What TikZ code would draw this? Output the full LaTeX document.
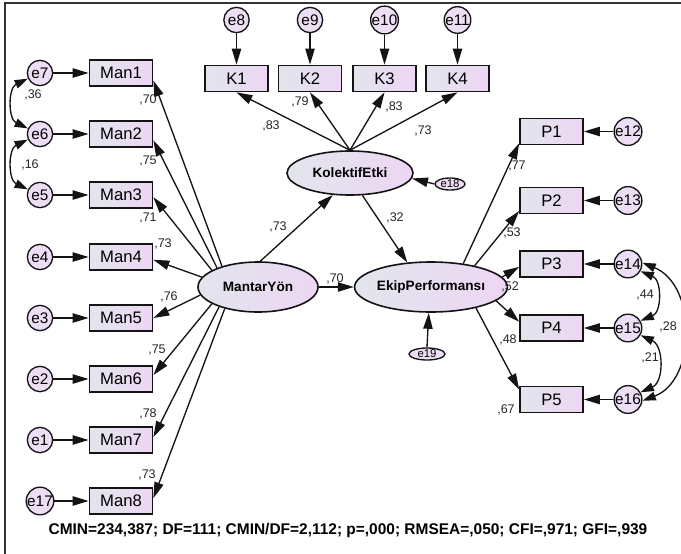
\documentclass[tikz,border=0pt]{standalone}
\usepackage{fontspec}
\setmainfont{Liberation Sans}
\usetikzlibrary{arrows.meta,shapes.geometric}
\definecolor{gl}{RGB}{226,229,237}
\definecolor{gr}{RGB}{237,214,243}
\definecolor{ef}{RGB}{238,222,245}
\definecolor{ln}{RGB}{20,20,20}
\tikzset{
 obs/.style={draw=ln, line width=1.3pt, rectangle, minimum width=47.25pt, minimum height=19.5pt, inner sep=0pt, left color=gl, right color=gr, font=\fontsize{12.5}{13}\selectfont},
 err/.style={draw=ln, line width=1pt, circle, minimum size=19pt, inner sep=0pt, fill=ef, font=\fontsize{11.5}{12}\selectfont},
 lat/.style={draw=ln, line width=1.2pt, ellipse, inner sep=0pt, left color=gl, right color=gr, font=\bfseries\fontsize{10.2}{12}\selectfont},
 serr/.style={draw=ln, line width=1pt, ellipse, inner sep=0pt, fill=ef, font=\fontsize{8.5}{9}\selectfont, minimum height=9pt},
 arr/.style={draw=ln, line width=1pt, -{Triangle[length=12pt,width=7pt]}},
 cov/.style={draw=ln, line width=1pt, {Triangle[length=10pt,width=6.5pt]}-{Triangle[length=10pt,width=6.5pt]}},
 lab/.style={font=\fontsize{9.4}{10}\selectfont, inner sep=0pt, text=black!85},
}
\begin{document}
\begin{tikzpicture}[x=0.75pt,y=-0.75pt]
\useasboundingbox (0,0) rectangle (681,553);
\draw[line width=1.5pt, black!80] (5,560) -- (5,3) -- (690,3);

% left column
\foreach \n/\e/\y in {1/7/73, 2/6/134, 3/5/195, 4/4/257, 5/3/318, 6/2/379, 7/1/440, 8/17/501}{
  \node[obs] (m\n) at (121,\y) {Man\n};
  \node[err] (e\e) at (40,\y) {e\e};
  \draw[arr] (e\e) -- (m\n);
}

% K row
\foreach \n/\e/\x in {1/8/236.5, 2/9/310, 3/10/384.5, 4/11/457.5}{
  \node[obs] (k\n) at (\x,78.5) {K\n};
  \node[err] (e\e) at (\x,20) {e\e};
  \draw[arr] (e\e) -- (k\n);
}

% latent
\node[lat, minimum width=94.5pt, minimum height=33pt] (ke) at (350,173) {KolektifEtki};
\node[lat, minimum width=90pt, minimum height=37.5pt] (my) at (258,287) {MantarYön};
\node[lat, minimum width=84pt, minimum height=37.5pt] (ep) at (431,287) {EkipPerformansı};
\node[serr, minimum width=22.5pt] (e18) at (450,184) {e18};
\node[serr, minimum width=27pt] (e19) at (427,354) {e19};

% P column
\foreach \n/\e/\y in {1/12/131.5, 2/13/200.5, 3/14/264, 4/15/328, 5/16/399.5}{
  \node[obs] (p\n) at (551.5,\y) {P\n};
  \node[err] (e\e) at (628,\y) {e\e};
  \draw[arr] (e\e) -- (p\n);
}

% MantarYon loadings
\draw[arr] (my.150) -- (m1.-13);
\draw[arr] (my.155) -- (m2.-11);
\draw[arr] (my.160) -- (m3.-4);
\draw[arr] (my.170) -- (m4.-5);
\draw[arr] (my.188) -- (m5.0);
\draw[arr] (my.200) -- (m6.7);
\draw[arr] (my.207) -- (m7.5);
\draw[arr] (my.213) -- (m8.5);
\node[lab] (l1) at (148,100) {,70};
\node[lab] (l2) at (148,161) {,75};
\node[lab] (l3) at (148,218) {,71};
\node[lab] (l4) at (163,244) {,73};
\node[lab] (l5) at (169,297) {,76};
\node[lab] (l6) at (157,350) {,75};
\node[lab] (l7) at (148,414) {,78};
\node[lab] (l8) at (147,475) {,73};

% K loadings
\foreach \n in {1,...,4}{ \draw[arr] (ke.north) -- (k\n.south); }
\node[lab] (lk1) at (271,126) {,83};
\node[lab] (lk2) at (300,102) {,79};
\node[lab] (lk3) at (394,107) {,83};
\node[lab] (lk4) at (423,131) {,73};

% structural
\draw[arr] (my.85) -- (ke.-128);
\draw[arr] (ke.-61) -- (ep.134);
\draw[arr] (my.east) -- (ep.west);
\draw[arr] (e18.west) -- (ke.-5);
\draw[arr] (e19.north) -- (ep.-95);
\node[lab] (s1) at (278,227) {,73};
\node[lab] (s2) at (395,218) {,32};
\node[lab] (s3) at (335,279) {,70};

% P loadings
\draw[arr] (ep.36) -- (p1.200);
\draw[arr] (ep.26) -- (p2.198);
\draw[arr] (ep.8) -- (p3.185);
\draw[arr] (ep.-12) -- (p4.169);
\draw[arr] (ep.-25) -- (p5.163);
\node[lab] (lp1) at (517,166) {,77};
\node[lab] (lp2) at (512,233) {,53};
\node[lab] (lp3) at (510,287) {,52};
\node[lab] (lp4) at (508,340) {,48};
\node[lab] (lp5) at (506,410) {,67};

% covariances
\draw[cov] (e7.205) .. controls (8,88) and (8,119) .. (e6.155);
\draw[cov] (e6.205) .. controls (8,149) and (8,180) .. (e5.155);
\node[lab] (c1) at (33,95) {,36};
\node[lab] (c2) at (30,165) {,16};
\draw[cov] (e14.-30) .. controls (662,280) and (662,312) .. (e15.30);
\draw[cov] (e15.-30) .. controls (664,346) and (664,382) .. (e16.30);
\draw[cov] (e14.5) .. controls (697,285) and (697,380) .. (e16.-5);
\node[lab] (c3) at (645,295) {,44};
\node[lab] (c4) at (650,358) {,21};
\node[lab] (c5) at (668,327) {,28};

\node[font=\bfseries\fontsize{11.6}{12}\selectfont, inner sep=0pt] (fitidx) at (348,530) {CMIN=234,387; DF=111; CMIN/DF=2,112; p=,000; RMSEA=,050; CFI=,971; GFI=,939};
\end{tikzpicture}
\end{document}
